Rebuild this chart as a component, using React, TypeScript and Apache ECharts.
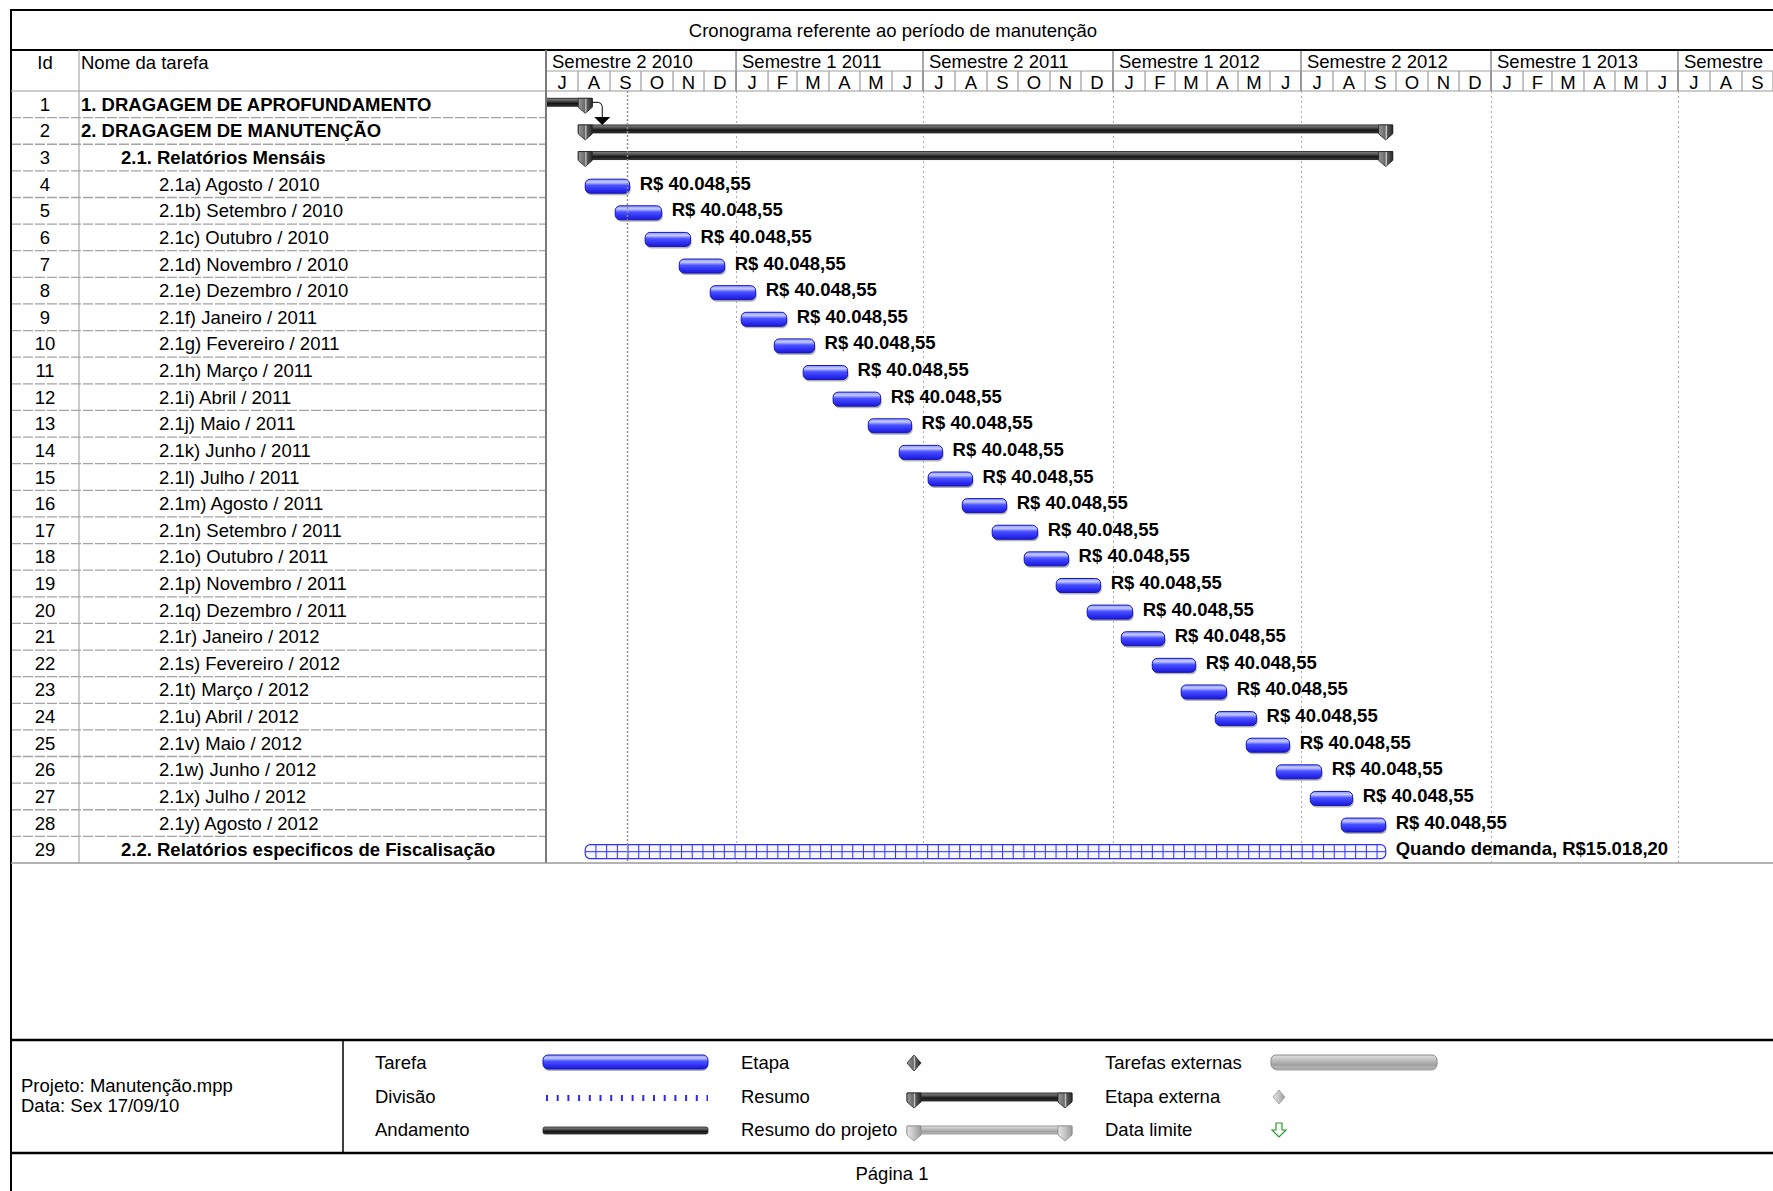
import React, { useEffect, useRef } from 'react';
import * as echarts from 'echarts';

const FONT = '"Liberation Sans", Arial, Helvetica, sans-serif';

const chartTitle = 'Cronograma referente ao período de manutenção';

const taskIds = ['1', '2', '3', '4', '5', '6', '7', '8', '9', '10', '11', '12', '13', '14', '15', '16', '17', '18', '19', '20', '21', '22', '23', '24', '25', '26', '27', '28', '29'];

const taskNames = [
  '1. DRAGAGEM DE APROFUNDAMENTO',
  '2. DRAGAGEM DE MANUTENÇÃO',
  '2.1. Relatórios Mensáis',
  '2.1a) Agosto / 2010',
  '2.1b) Setembro / 2010',
  '2.1c) Outubro / 2010',
  '2.1d) Novembro / 2010',
  '2.1e) Dezembro / 2010',
  '2.1f) Janeiro / 2011',
  '2.1g) Fevereiro / 2011',
  '2.1h) Março / 2011',
  '2.1i) Abril / 2011',
  '2.1j) Maio / 2011',
  '2.1k) Junho / 2011',
  '2.1l) Julho / 2011',
  '2.1m) Agosto / 2011',
  '2.1n) Setembro / 2011',
  '2.1o) Outubro / 2011',
  '2.1p) Novembro / 2011',
  '2.1q) Dezembro / 2011',
  '2.1r) Janeiro / 2012',
  '2.1s) Fevereiro / 2012',
  '2.1t) Março / 2012',
  '2.1u) Abril / 2012',
  '2.1v) Maio / 2012',
  '2.1w) Junho / 2012',
  '2.1x) Julho / 2012',
  '2.1y) Agosto / 2012',
  '2.2. Relatórios especificos de Fiscalisação',
];

const outlineLevels = [0, 0, 1, 2, 2, 2, 2, 2, 2, 2, 2, 2, 2, 2, 2, 2, 2, 2, 2, 2, 2, 2, 2, 2, 2, 2, 2, 2, 1];

const summaryRows = [0, 1, 2];
const summaryStarts = ['2010-03-01', '2010-08-08', '2010-08-08'];
const summaryEnds = ['2010-08-08', '2012-09-21', '2012-09-21'];

const monthlyRows = [3, 4, 5, 6, 7, 8, 9, 10, 11, 12, 13, 14, 15, 16, 17, 18, 19, 20, 21, 22, 23, 24, 25, 26, 27];
const monthlyStarts = [
  '2010-08-08', '2010-09-06', '2010-10-05', '2010-11-07', '2010-12-07',
  '2011-01-06', '2011-02-07', '2011-03-07', '2011-04-05', '2011-05-09',
  '2011-06-08', '2011-07-06', '2011-08-08', '2011-09-06', '2011-10-07',
  '2011-11-07', '2011-12-07', '2012-01-09', '2012-02-08', '2012-03-07',
  '2012-04-09', '2012-05-09', '2012-06-07', '2012-07-10', '2012-08-09',
];
const monthlyEnds = [
  '2010-09-20', '2010-10-21', '2010-11-18', '2010-12-21', '2011-01-20',
  '2011-02-19', '2011-03-18', '2011-04-19', '2011-05-21', '2011-06-20',
  '2011-07-20', '2011-08-18', '2011-09-20', '2011-10-20', '2011-11-19',
  '2011-12-20', '2012-01-20', '2012-02-20', '2012-03-21', '2012-04-20',
  '2012-05-19', '2012-06-20', '2012-07-21', '2012-08-20', '2012-09-21',
];
const monthlyCosts = [
  'R$ 40.048,55', 'R$ 40.048,55', 'R$ 40.048,55', 'R$ 40.048,55', 'R$ 40.048,55',
  'R$ 40.048,55', 'R$ 40.048,55', 'R$ 40.048,55', 'R$ 40.048,55', 'R$ 40.048,55',
  'R$ 40.048,55', 'R$ 40.048,55', 'R$ 40.048,55', 'R$ 40.048,55', 'R$ 40.048,55',
  'R$ 40.048,55', 'R$ 40.048,55', 'R$ 40.048,55', 'R$ 40.048,55', 'R$ 40.048,55',
  'R$ 40.048,55', 'R$ 40.048,55', 'R$ 40.048,55', 'R$ 40.048,55', 'R$ 40.048,55',
];

const demandRows = [28];
const demandStarts = ['2010-08-08'];
const demandEnds = ['2012-09-21'];
const demandLabels = ['Quando demanda, R$15.018,20'];

const linkFromRows = [0];
const linkToRows = [1];

const statusDate = '2010-09-17';
const timelineStart = '2010-07-01';
const timelineEnd = '2013-10-01';

const semesterStarts = ['2010-07-01', '2011-01-01', '2011-07-01', '2012-01-01', '2012-07-01', '2013-01-01', '2013-07-01'];
const semesterLabels = ['Semestre 2 2010', 'Semestre 1 2011', 'Semestre 2 2011', 'Semestre 1 2012', 'Semestre 2 2012', 'Semestre 1 2013', 'Semestre'];
const monthLetters = [
  'J', 'A', 'S', 'O', 'N', 'D',
  'J', 'F', 'M', 'A', 'M', 'J', 'J', 'A', 'S', 'O', 'N', 'D',
  'J', 'F', 'M', 'A', 'M', 'J', 'J', 'A', 'S', 'O', 'N', 'D',
  'J', 'F', 'M', 'A', 'M', 'J', 'J', 'A', 'S',
];

const legendLabels = ['Tarefa', 'Divisão', 'Andamento', 'Etapa', 'Resumo', 'Resumo do projeto', 'Tarefas externas', 'Etapa externa', 'Data limite'];
const projectInfo = ['Projeto: Manutenção.mpp', 'Data: Sex 17/09/10'];
const pageLabel = 'Página 1';

function ts(s: string): number {
  const [y, m, d] = s.split('-').map(Number);
  return new Date(y, m - 1, d).getTime();
}
function monthStart(i: number): number {
  return new Date(2010, 6 + i, 1).getTime();
}

const W = 1773;
const H = 1191;
const LEFT = 11;
const GANTT_X = 546;
const TABLE_TOP = 91;
const TABLE_BOTTOM = 863;
const HEADER_TOP = 50;
const FS = 18.5;

const font = (size: number, bold = false) => `${bold ? 'bold ' : ''}${size}px ${FONT}`;

function txt(text: string, x: number, y: number, align: string, f: string, fill = '#000'): any {
  return {
    type: 'text',
    style: { text, x, y, align, verticalAlign: 'middle', textAlign: align, textVerticalAlign: 'middle', font: f, fill },
  };
}

const blueGrad = {
  type: 'linear', x: 0, y: 0, x2: 0, y2: 1,
  colorStops: [
    { offset: 0, color: '#8c96ff' },
    { offset: 0.22, color: '#c4caff' },
    { offset: 0.45, color: '#4a52ff' },
    { offset: 0.8, color: '#2a2af0' },
    { offset: 1, color: '#1c1cc8' },
  ],
};
const darkGrad = {
  type: 'linear', x: 0, y: 0, x2: 0, y2: 1,
  colorStops: [
    { offset: 0, color: '#8a8a8a' },
    { offset: 0.3, color: '#5a5a5a' },
    { offset: 0.65, color: '#141414' },
    { offset: 1, color: '#3a3a3a' },
  ],
};
const lightGrad = {
  type: 'linear', x: 0, y: 0, x2: 0, y2: 1,
  colorStops: [
    { offset: 0, color: '#e0e0e0' },
    { offset: 0.4, color: '#bdbdbd' },
    { offset: 0.7, color: '#a0a0a0' },
    { offset: 1, color: '#c0c0c0' },
  ],
};
const capGrad = {
  type: 'linear', x: 0, y: 0, x2: 1, y2: 0,
  colorStops: [
    { offset: 0, color: '#9a9a9a' },
    { offset: 0.45, color: '#6a6a6a' },
    { offset: 0.55, color: '#d0d0d0' },
    { offset: 0.62, color: '#5a5a5a' },
    { offset: 1, color: '#2a2a2a' },
  ],
};
const lightCapGrad = {
  type: 'linear', x: 0, y: 0, x2: 1, y2: 0,
  colorStops: [
    { offset: 0, color: '#e6e6e6' },
    { offset: 0.5, color: '#c4c4c4' },
    { offset: 1, color: '#9a9a9a' },
  ],
};

function cap(cx: number, top: number, fill: any, stroke: string): any {
  return {
    type: 'polygon',
    shape: { points: [[cx - 7, top], [cx + 7, top], [cx + 7, top + 9], [cx, top + 15], [cx - 7, top + 9]] },
    style: { fill, stroke, lineWidth: 0.8 },
  };
}

function buildOption(): any {
  const xMin = ts(timelineStart);
  const xMax = ts(timelineEnd);

  const tableData = taskIds.map((_, i) => [0, i]);
  const monthData = monthLetters.map((_, i) => [monthStart(i), monthStart(i + 1), i]);
  const semesterData = semesterStarts.map((s, i) => [ts(s), i]);
  const gridLineData = semesterStarts.slice(1).map((s) => [ts(s), 0]);
  const summaryData = summaryRows.map((r, i) => [r, ts(summaryStarts[i]), ts(summaryEnds[i])]);
  const monthlyData = monthlyRows.map((r, i) => [r, ts(monthlyStarts[i]), ts(monthlyEnds[i]), i]);
  const demandData = demandRows.map((r, i) => [r, ts(demandStarts[i]), ts(demandEnds[i]), i]);
  const linkData = linkFromRows.map((r, i) => {
    const fi = summaryRows.indexOf(r);
    return [r, ts(summaryEnds[fi]), linkToRows[i]];
  });

  const graphics: any[] = [];
  const line = (x1: number, y1: number, x2: number, y2: number, stroke: string, lw: number, dash?: number[]) => {
    graphics.push({ type: 'line', shape: { x1, y1, x2, y2 }, style: { stroke, lineWidth: lw, lineDash: dash }, z: 10 });
  };
  // frame
  line(LEFT, 10, W, 10, '#000', 2);
  line(LEFT, 9, LEFT, H, '#000', 2);
  line(LEFT, HEADER_TOP, W, HEADER_TOP, '#000', 2);
  line(GANTT_X, 71, W, 71, '#a0a0a0', 1);
  line(LEFT, TABLE_TOP, W, TABLE_TOP, '#9a9a9a', 1.2);
  line(79, HEADER_TOP, 79, TABLE_BOTTOM, '#a8a8a8', 1.2);
  line(GANTT_X, HEADER_TOP, GANTT_X, TABLE_BOTTOM, '#7a7a7a', 2);
  line(LEFT, TABLE_BOTTOM, W, TABLE_BOTTOM, '#9a9a9a', 1.5);
  line(LEFT, 1040, W, 1040, '#000', 2.5);
  line(LEFT, 1153, W, 1153, '#000', 2.5);
  line(343, 1040, 343, 1153, '#000', 1.5);

  graphics.push({ ...txt(chartTitle, 893, 30, 'center', font(FS)), z: 10 });
  graphics.push({ ...txt('Id', 45, 62, 'center', font(FS)), z: 10 });
  graphics.push({ ...txt('Nome da tarefa', 81, 62, 'left', font(FS)), z: 10 });
  graphics.push({ ...txt(projectInfo[0], 21, 1085, 'left', font(FS)), z: 10 });
  graphics.push({ ...txt(projectInfo[1], 21, 1105, 'left', font(FS)), z: 10 });
  graphics.push({ ...txt(pageLabel, 892, 1173, 'center', font(FS)), z: 10 });

  // legend
  const ly = [1062, 1096, 1129];
  const lx = [375, 741, 1105];
  legendLabels.forEach((l, i) => {
    graphics.push({ ...txt(l, lx[Math.floor(i / 3)], ly[i % 3], 'left', font(FS)), z: 10 });
  });
  // Tarefa
  graphics.push({ type: 'rect', shape: { x: 544, y: ly[0] - 4, width: 164, height: 13, r: 5 }, style: { fill: '#b8b8b8' }, z: 10 });
  graphics.push({ type: 'rect', shape: { x: 543, y: ly[0] - 7, width: 165, height: 14, r: 5 }, style: { fill: blueGrad, stroke: '#1414c0', lineWidth: 1 }, z: 11 });
  // Divisão
  graphics.push({ type: 'line', shape: { x1: 546, y1: ly[1] + 2, x2: 708, y2: ly[1] + 2 }, style: { stroke: '#2a2ae8', lineWidth: 6, lineDash: [2, 8.7] }, z: 10 });
  // Andamento
  graphics.push({ type: 'rect', shape: { x: 543, y: ly[2] - 2, width: 165, height: 7, r: 2 }, style: { fill: darkGrad, stroke: '#222', lineWidth: 0.8 }, z: 10 });
  // Etapa
  graphics.push({ type: 'polygon', shape: { points: [[914, ly[0] - 7], [921, ly[0] + 1], [914, ly[0] + 9], [907, ly[0] + 1]] }, style: { fill: capGrad, stroke: '#222', lineWidth: 0.8 }, z: 10 });
  // Resumo
  graphics.push({ type: 'rect', shape: { x: 907, y: ly[1] - 3, width: 165, height: 8 }, style: { fill: darkGrad, stroke: '#111', lineWidth: 0.8 }, z: 10 });
  graphics.push({ ...cap(914, ly[1] - 3, capGrad, '#222'), z: 11 });
  graphics.push({ ...cap(1065, ly[1] - 3, capGrad, '#222'), z: 11 });
  // Resumo do projeto
  graphics.push({ type: 'rect', shape: { x: 907, y: ly[2] - 3, width: 165, height: 8 }, style: { fill: lightGrad, stroke: '#8a8a8a', lineWidth: 0.8 }, z: 10 });
  graphics.push({ ...cap(914, ly[2] - 3, lightCapGrad, '#8a8a8a'), z: 11 });
  graphics.push({ ...cap(1065, ly[2] - 3, lightCapGrad, '#8a8a8a'), z: 11 });
  // Tarefas externas
  graphics.push({ type: 'rect', shape: { x: 1272, y: ly[0] - 4, width: 165, height: 13, r: 5 }, style: { fill: '#d0d0d0' }, z: 10 });
  graphics.push({ type: 'rect', shape: { x: 1271, y: ly[0] - 7, width: 166, height: 14, r: 5 }, style: { fill: lightGrad, stroke: '#8a8a8a', lineWidth: 1 }, z: 11 });
  // Etapa externa
  graphics.push({ type: 'polygon', shape: { points: [[1279, ly[1] - 6], [1285, ly[1] + 1], [1279, ly[1] + 8], [1273, ly[1] + 1]] }, style: { fill: lightCapGrad, stroke: '#9a9a9a', lineWidth: 0.8 }, z: 10 });
  // Data limite
  const ay = ly[2] + 1;
  graphics.push({
    type: 'polygon',
    shape: { points: [[1276, ay - 7], [1282, ay - 7], [1282, ay], [1286, ay], [1279, ay + 7], [1272, ay], [1276, ay]] },
    style: { fill: '#fff', stroke: '#2a9a2a', lineWidth: 1.2 },
    z: 10,
  });

  const bandOf = (api: any) => api.size([0, 1])[1];

  return {
    animation: false,
    backgroundColor: '#fff',
    grid: [
      { left: LEFT, top: TABLE_TOP, width: GANTT_X - LEFT, height: TABLE_BOTTOM - TABLE_TOP, show: false },
      { left: GANTT_X, top: TABLE_TOP, width: W - GANTT_X, height: TABLE_BOTTOM - TABLE_TOP, show: false },
      { left: GANTT_X, top: HEADER_TOP, width: W - GANTT_X, height: TABLE_TOP - HEADER_TOP, show: false },
    ],
    xAxis: [
      { type: 'value', gridIndex: 0, min: 0, max: GANTT_X - LEFT, show: false },
      { type: 'time', gridIndex: 1, min: xMin, max: xMax, show: false },
      { type: 'time', gridIndex: 2, min: xMin, max: xMax, show: false },
    ],
    yAxis: [
      { type: 'category', gridIndex: 0, data: taskIds, inverse: true, show: false },
      { type: 'category', gridIndex: 1, data: taskIds, inverse: true, show: false },
      { type: 'value', gridIndex: 2, min: 0, max: 2, show: false },
    ],
    graphic: { elements: graphics },
    series: [
      {
        type: 'custom', name: 'table', xAxisIndex: 0, yAxisIndex: 0, silent: true,
        encode: { x: 0, y: 1 },
        data: tableData,
        renderItem: (params: any, api: any) => {
          const cs = params.coordSys;
          const i = api.value(1);
          const yc = api.coord([0, i])[1];
          const band = bandOf(api);
          const lvl = outlineLevels[i];
          const indent = [70, 110, 148][lvl];
          const children: any[] = [
            txt(taskIds[i], cs.x + 34, yc, 'center', font(FS)),
            txt(taskNames[i], cs.x + indent, yc, 'left', font(FS, lvl < 2)),
          ];
          if (i < taskIds.length - 1) {
            children.push({ type: 'line', shape: { x1: cs.x, y1: yc + band / 2, x2: cs.x + cs.width, y2: yc + band / 2 }, style: { stroke: '#a4a4a4', lineWidth: 1.3, lineDash: [10, 2] } });
          }
          return { type: 'group', children };
        },
      },
      {
        type: 'custom', name: 'months', xAxisIndex: 2, yAxisIndex: 2, silent: true,
        encode: { x: [0, 1] },
        data: monthData,
        renderItem: (params: any, api: any) => {
          const cs = params.coordSys;
          const x1 = Math.max(api.coord([api.value(0), 0])[0], cs.x);
          const x2 = Math.min(api.coord([api.value(1), 0])[0], cs.x + cs.width);
          const i = api.value(2);
          const top = cs.y + 21;
          const bot = cs.y + cs.height;
          return {
            type: 'group',
            children: [
              txt(monthLetters[i], (x1 + x2) / 2, (top + bot) / 2 + 1, 'center', font(FS)),
              { type: 'line', shape: { x1: x2, y1: top, x2: x2, y2: bot }, style: { stroke: '#9a9a9a', lineWidth: 1.2 } },
            ],
          };
        },
      },
      {
        type: 'custom', name: 'semesters', xAxisIndex: 2, yAxisIndex: 2, silent: true,
        encode: { x: 0 },
        data: semesterData,
        renderItem: (params: any, api: any) => {
          const cs = params.coordSys;
          const x = api.coord([api.value(0), 0])[0];
          const i = api.value(1);
          const children: any[] = [txt(semesterLabels[i], x + 6, cs.y + 11.5, 'left', font(FS))];
          if (x > cs.x + 1) {
            children.push({ type: 'line', shape: { x1: x, y1: cs.y, x2: x, y2: cs.y + cs.height }, style: { stroke: '#8a8a8a', lineWidth: 1.5 } });
          }
          return { type: 'group', children };
        },
      },
      {
        type: 'custom', name: 'gridlines', xAxisIndex: 1, yAxisIndex: 1, silent: true,
        encode: { x: 0 },
        data: gridLineData,
        renderItem: (params: any, api: any) => {
          const cs = params.coordSys;
          const x = Math.round(api.coord([api.value(0), 0])[0]) + 0.5;
          return { type: 'line', shape: { x1: x, y1: cs.y, x2: x, y2: cs.y + cs.height }, style: { stroke: '#ababab', lineWidth: 1, lineDash: [2, 3] } };
        },
      },
      {
        type: 'custom', name: 'summary', xAxisIndex: 1, yAxisIndex: 1, silent: true,
        encode: { x: [1, 2], y: 0 },
        data: summaryData,
        renderItem: (params: any, api: any) => {
          const cs = params.coordSys;
          const row = api.value(0);
          const s = api.coord([api.value(1), row]);
          const e = api.coord([api.value(2), row]);
          const yc = s[1] - 2;
          const top = yc - 4;
          const left = Math.max(s[0] - 7, cs.x);
          const children: any[] = [
            { type: 'rect', shape: { x: left, y: top, width: e[0] + 7 - left, height: 8 }, style: { fill: darkGrad, stroke: '#111', lineWidth: 0.8 } },
          ];
          if (s[0] - 7 >= cs.x) children.push(cap(s[0], top, capGrad, '#222'));
          children.push(cap(e[0], top, capGrad, '#222'));
          return { type: 'group', children };
        },
      },
      {
        type: 'custom', name: 'monthly', xAxisIndex: 1, yAxisIndex: 1, silent: true,
        encode: { x: [1, 2], y: 0 },
        data: monthlyData,
        renderItem: (params: any, api: any) => {
          const row = api.value(0);
          const s = api.coord([api.value(1), row]);
          const e = api.coord([api.value(2), row]);
          const i = api.value(3);
          const yc = s[1];
          const top = yc - 5;
          const w = e[0] - s[0];
          return {
            type: 'group',
            children: [
              { type: 'rect', shape: { x: s[0] + 1, y: top + 3, width: w, height: 13, r: 5 }, style: { fill: '#b4b4b4' } },
              { type: 'rect', shape: { x: s[0], y: top, width: w, height: 14, r: 5 }, style: { fill: blueGrad, stroke: '#1414c0', lineWidth: 1 } },
              txt(monthlyCosts[i], e[0] + 10, yc - 1, 'left', font(FS, true)),
            ],
          };
        },
      },
      {
        type: 'custom', name: 'demand', xAxisIndex: 1, yAxisIndex: 1, silent: true,
        encode: { x: [1, 2], y: 0 },
        data: demandData,
        renderItem: (params: any, api: any) => {
          const row = api.value(0);
          const s = api.coord([api.value(1), row]);
          const e = api.coord([api.value(2), row]);
          const i = api.value(3);
          const yc = s[1];
          const top = yc - 5;
          const h = 14;
          const children: any[] = [
            { type: 'rect', shape: { x: s[0], y: top, width: e[0] - s[0], height: h, r: 5 }, style: { fill: '#f6f6ff', stroke: '#3030ff', lineWidth: 1.2 } },
            { type: 'line', shape: { x1: s[0], y1: top + h / 2, x2: e[0], y2: top + h / 2 }, style: { stroke: '#3030ff', lineWidth: 1 } },
          ];
          for (let x = s[0] + 10.7; x < e[0] - 4; x += 10.7) {
            children.push({ type: 'line', shape: { x1: x, y1: top, x2: x, y2: top + h }, style: { stroke: '#3030ff', lineWidth: 1 } });
          }
          children.push(txt(demandLabels[i], e[0] + 10, yc - 1, 'left', font(FS, true)));
          return { type: 'group', children };
        },
      },
      {
        type: 'custom', name: 'links', xAxisIndex: 1, yAxisIndex: 1, silent: true,
        encode: { x: 1, y: 0 },
        data: linkData,
        renderItem: (params: any, api: any) => {
          const from = api.value(0);
          const end = api.value(1);
          const to = api.value(2);
          const p = api.coord([end, from]);
          const q = api.coord([end, to]);
          const y0 = p[1] - 2;
          const tip = q[1] - 6;
          const ax = p[0] + 17;
          return {
            type: 'group',
            children: [
              { type: 'polyline', shape: { points: [[p[0] + 7, y0], [ax - 4, y0], [ax - 1.5, y0 + 1], [ax, y0 + 4], [ax, tip - 8]] }, style: { stroke: '#000', lineWidth: 1, fill: null } },
              { type: 'polygon', shape: { points: [[ax - 8, tip - 8], [ax + 8, tip - 8], [ax, tip]] }, style: { fill: '#000' } },
            ],
          };
        },
      },
      {
        type: 'custom', name: 'status', xAxisIndex: 1, yAxisIndex: 1, silent: true, z: 5,
        encode: { x: 0 },
        data: [[ts(statusDate), 0]],
        renderItem: (params: any, api: any) => {
          const cs = params.coordSys;
          const x = Math.round(api.coord([api.value(0), 0])[0]) + 0.5;
          return { type: 'line', shape: { x1: x, y1: cs.y, x2: x, y2: cs.y + cs.height }, style: { stroke: '#8c8c8c', lineWidth: 1.5, lineDash: [2, 2] } };
        },
      },
    ],
  };
}

export default function App() {
  const ref = useRef<HTMLDivElement>(null);
  useEffect(() => {
    if (!ref.current) return;
    const chart = echarts.init(ref.current, null, { renderer: 'svg' });
    chart.setOption(buildOption());
    return () => chart.dispose();
  }, []);
  return (
    <div
      ref={ref}
      style={{ position: 'fixed', left: 0, top: 0, width: W, height: H, background: '#fff' }}
    />
  );
}
